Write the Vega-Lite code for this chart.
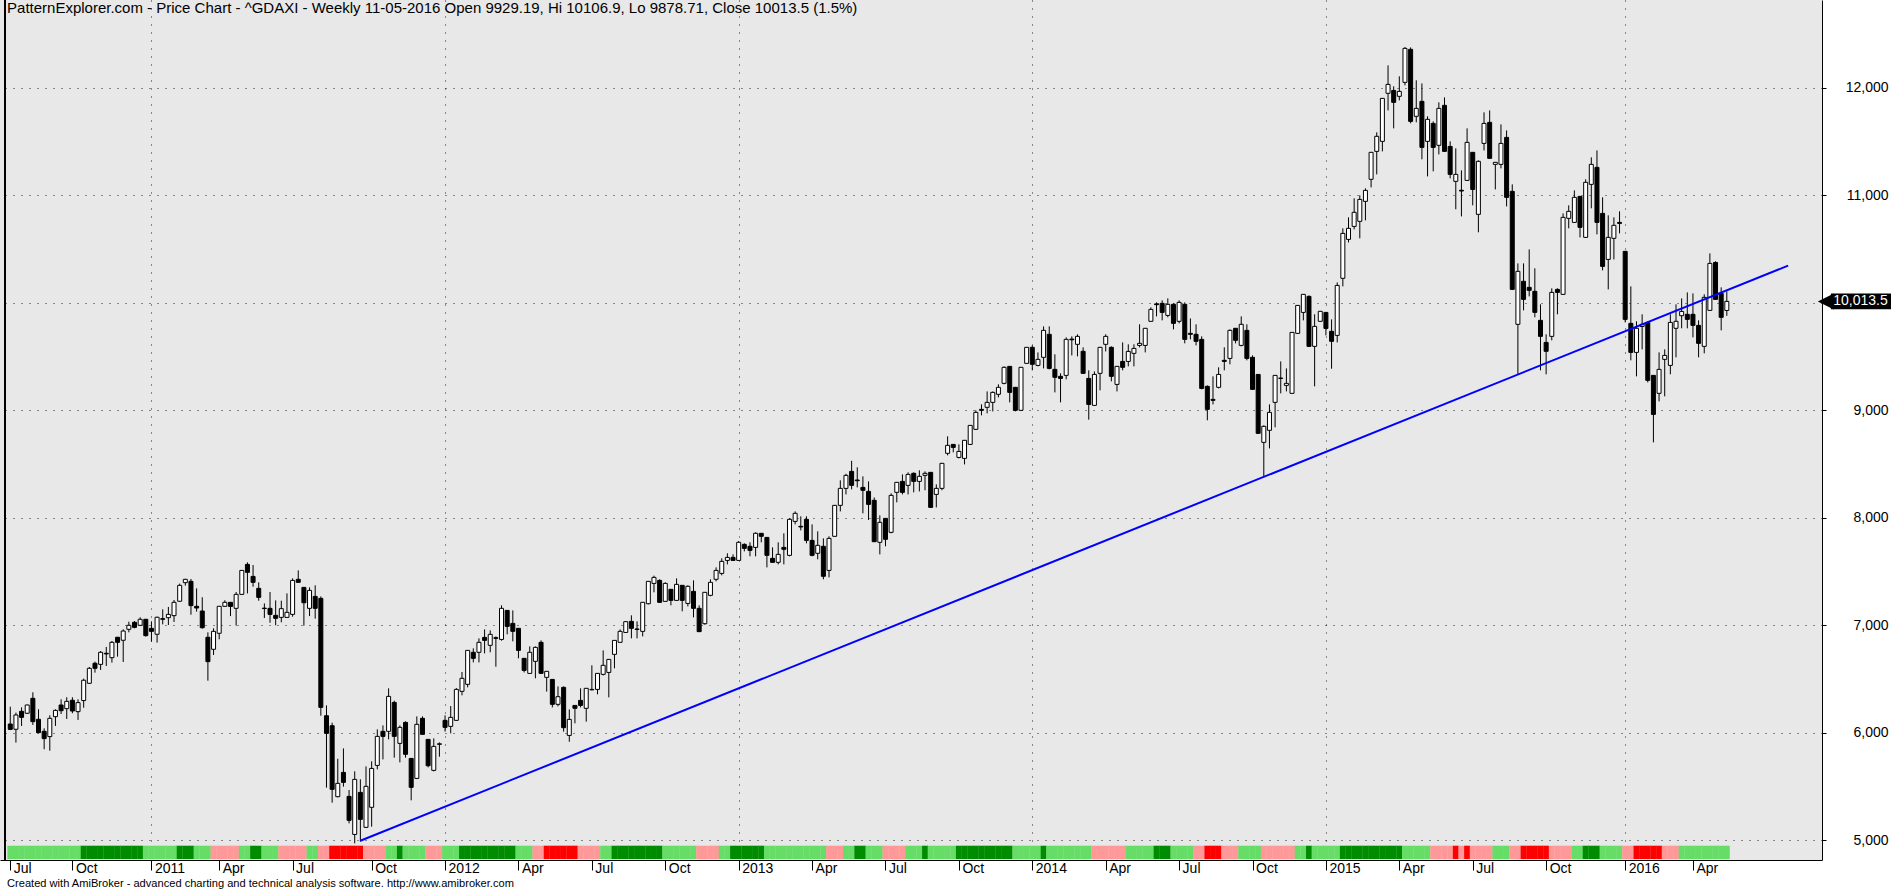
{
"$schema": "https://vega.github.io/schema/vega-lite/v6.json",
"width": 1822, "height": 860,
"autosize": {"type": "none"},
"padding": {"left": 0, "top": 0, "right": 69, "bottom": 32},
"background": "#FFFFFF",
"datasets": {
"candles": [
{"d":"2010-07-16","o":6082,"h":6243,"l":6026,"c":6032,"b":"L"},
{"d":"2010-07-23","o":6033,"h":6188,"l":5909,"c":6166,"b":"L"},
{"d":"2010-07-30","o":6200,"h":6237,"l":6064,"c":6144,"b":"L"},
{"d":"2010-08-06","o":6182,"h":6262,"l":6175,"c":6259,"b":"L"},
{"d":"2010-08-13","o":6321,"h":6377,"l":6073,"c":6104,"b":"L"},
{"d":"2010-08-20","o":6126,"h":6219,"l":5995,"c":6002,"b":"L"},
{"d":"2010-08-27","o":6014,"h":6042,"l":5847,"c":5946,"b":"L"},
{"d":"2010-09-03","o":5965,"h":6163,"l":5834,"c":6135,"b":"L"},
{"d":"2010-09-10","o":6150,"h":6219,"l":6064,"c":6209,"b":"L"},
{"d":"2010-09-17","o":6259,"h":6312,"l":6175,"c":6206,"b":"L"},
{"d":"2010-09-24","o":6225,"h":6331,"l":6129,"c":6293,"b":"L"},
{"d":"2010-10-01","o":6303,"h":6331,"l":6182,"c":6203,"b":"L"},
{"d":"2010-10-08","o":6197,"h":6312,"l":6120,"c":6281,"b":"L"},
{"d":"2010-10-15","o":6300,"h":6504,"l":6234,"c":6489,"b":"D"},
{"d":"2010-10-22","o":6461,"h":6613,"l":6455,"c":6600,"b":"D"},
{"d":"2010-10-29","o":6647,"h":6662,"l":6560,"c":6600,"b":"D"},
{"d":"2010-11-05","o":6637,"h":6761,"l":6585,"c":6749,"b":"D"},
{"d":"2010-11-12","o":6740,"h":6799,"l":6622,"c":6734,"b":"D"},
{"d":"2010-11-19","o":6699,"h":6854,"l":6653,"c":6842,"b":"D"},
{"d":"2010-11-26","o":6889,"h":6892,"l":6709,"c":6842,"b":"D"},
{"d":"2010-12-03","o":6861,"h":6963,"l":6659,"c":6947,"b":"D"},
{"d":"2010-12-10","o":6963,"h":7034,"l":6935,"c":7000,"b":"D"},
{"d":"2010-12-17","o":7028,"h":7040,"l":6972,"c":6981,"b":"D"},
{"d":"2010-12-24","o":7000,"h":7075,"l":6994,"c":7056,"b":"D"},
{"d":"2010-12-31","o":7056,"h":7060,"l":6895,"c":6904,"b":"L"},
{"d":"2011-01-07","o":6972,"h":7037,"l":6848,"c":6944,"b":"L"},
{"d":"2011-01-14","o":6917,"h":7080,"l":6839,"c":7075,"b":"L"},
{"d":"2011-01-21","o":7062,"h":7149,"l":7009,"c":7056,"b":"L"},
{"d":"2011-01-28","o":7071,"h":7171,"l":7003,"c":7102,"b":"L"},
{"d":"2011-02-04","o":7090,"h":7236,"l":7031,"c":7214,"b":"L"},
{"d":"2011-02-11","o":7224,"h":7388,"l":7220,"c":7372,"b":"D"},
{"d":"2011-02-18","o":7397,"h":7432,"l":7369,"c":7428,"b":"D"},
{"d":"2011-02-25","o":7409,"h":7431,"l":7099,"c":7183,"b":"D"},
{"d":"2011-03-04","o":7177,"h":7344,"l":7127,"c":7161,"b":"L"},
{"d":"2011-03-11","o":7133,"h":7261,"l":6969,"c":6978,"b":"L"},
{"d":"2011-03-18","o":6889,"h":6935,"l":6485,"c":6662,"b":"L"},
{"d":"2011-03-25","o":6777,"h":6972,"l":6724,"c":6944,"b":"P"},
{"d":"2011-04-01","o":6926,"h":7180,"l":6870,"c":7177,"b":"P"},
{"d":"2011-04-08","o":7177,"h":7233,"l":7175,"c":7214,"b":"P"},
{"d":"2011-04-15","o":7214,"h":7216,"l":7086,"c":7176,"b":"P"},
{"d":"2011-04-22","o":7158,"h":7310,"l":6997,"c":7288,"b":"P"},
{"d":"2011-04-29","o":7288,"h":7515,"l":7285,"c":7511,"b":"L"},
{"d":"2011-05-06","o":7567,"h":7586,"l":7297,"c":7493,"b":"L"},
{"d":"2011-05-13","o":7455,"h":7561,"l":7359,"c":7400,"b":"D"},
{"d":"2011-05-20","o":7344,"h":7400,"l":7229,"c":7260,"b":"D"},
{"d":"2011-05-27","o":7160,"h":7204,"l":7068,"c":7156,"b":"L"},
{"d":"2011-06-03","o":7158,"h":7310,"l":7024,"c":7102,"b":"L"},
{"d":"2011-06-10","o":7093,"h":7232,"l":7000,"c":7065,"b":"L"},
{"d":"2011-06-17","o":7074,"h":7229,"l":7028,"c":7155,"b":"P"},
{"d":"2011-06-24","o":7074,"h":7297,"l":7070,"c":7121,"b":"P"},
{"d":"2011-07-01","o":7102,"h":7437,"l":7080,"c":7418,"b":"P"},
{"d":"2011-07-08","o":7428,"h":7511,"l":7398,"c":7400,"b":"P"},
{"d":"2011-07-15","o":7353,"h":7356,"l":6997,"c":7210,"b":"P"},
{"d":"2011-07-22","o":7158,"h":7353,"l":7086,"c":7325,"b":"L"},
{"d":"2011-07-29","o":7269,"h":7372,"l":7062,"c":7158,"b":"L"},
{"d":"2011-08-05","o":7251,"h":7269,"l":6159,"c":6237,"b":"P"},
{"d":"2011-08-12","o":6159,"h":6255,"l":5490,"c":5995,"b":"P"},
{"d":"2011-08-19","o":6066,"h":6094,"l":5350,"c":5474,"b":"R"},
{"d":"2011-08-26","o":5406,"h":5759,"l":5400,"c":5530,"b":"R"},
{"d":"2011-09-02","o":5632,"h":5855,"l":5499,"c":5539,"b":"R"},
{"d":"2011-09-09","o":5409,"h":5468,"l":5158,"c":5186,"b":"R"},
{"d":"2011-09-16","o":5055,"h":5642,"l":4972,"c":5567,"b":"R"},
{"d":"2011-09-23","o":5446,"h":5567,"l":4987,"c":5195,"b":"R"},
{"d":"2011-09-30","o":5121,"h":5688,"l":5115,"c":5502,"b":"P"},
{"d":"2011-10-07","o":5307,"h":5735,"l":5127,"c":5669,"b":"P"},
{"d":"2011-10-14","o":5697,"h":6032,"l":5660,"c":5967,"b":"P"},
{"d":"2011-10-21","o":6014,"h":6069,"l":5753,"c":5967,"b":"P"},
{"d":"2011-10-28","o":6014,"h":6414,"l":5939,"c":6339,"b":"L"},
{"d":"2011-11-04","o":6283,"h":6299,"l":5769,"c":5967,"b":"L"},
{"d":"2011-11-11","o":5902,"h":6069,"l":5725,"c":6051,"b":"D"},
{"d":"2011-11-18","o":6097,"h":6107,"l":5769,"c":5800,"b":"L"},
{"d":"2011-11-25","o":5762,"h":5765,"l":5372,"c":5493,"b":"L"},
{"d":"2011-12-02","o":5576,"h":6153,"l":5570,"c":6079,"b":"L"},
{"d":"2011-12-09","o":6135,"h":6153,"l":5983,"c":5986,"b":"L"},
{"d":"2011-12-16","o":5939,"h":5942,"l":5679,"c":5694,"b":"P"},
{"d":"2011-12-23","o":5651,"h":5948,"l":5641,"c":5874,"b":"P"},
{"d":"2011-12-30","o":5893,"h":5911,"l":5778,"c":5898,"b":"P"},
{"d":"2012-01-06","o":6116,"h":6163,"l":6011,"c":6051,"b":"L"},
{"d":"2012-01-13","o":6060,"h":6249,"l":5995,"c":6144,"b":"L"},
{"d":"2012-01-20","o":6116,"h":6416,"l":6110,"c":6404,"b":"L"},
{"d":"2012-01-27","o":6386,"h":6566,"l":6349,"c":6507,"b":"D"},
{"d":"2012-02-03","o":6451,"h":6770,"l":6423,"c":6767,"b":"D"},
{"d":"2012-02-10","o":6749,"h":6786,"l":6655,"c":6693,"b":"D"},
{"d":"2012-02-17","o":6749,"h":6879,"l":6655,"c":6842,"b":"D"},
{"d":"2012-02-24","o":6888,"h":6962,"l":6739,"c":6860,"b":"D"},
{"d":"2012-03-02","o":6814,"h":6953,"l":6749,"c":6916,"b":"D"},
{"d":"2012-03-09","o":6885,"h":6897,"l":6615,"c":6879,"b":"D"},
{"d":"2012-03-16","o":6869,"h":7186,"l":6857,"c":7158,"b":"D"},
{"d":"2012-03-23","o":7139,"h":7142,"l":6916,"c":6990,"b":"D"},
{"d":"2012-03-30","o":7018,"h":7139,"l":6851,"c":6944,"b":"D"},
{"d":"2012-04-06","o":6972,"h":6975,"l":6693,"c":6767,"b":"L"},
{"d":"2012-04-13","o":6693,"h":6696,"l":6562,"c":6581,"b":"L"},
{"d":"2012-04-20","o":6553,"h":6804,"l":6550,"c":6749,"b":"L"},
{"d":"2012-04-27","o":6665,"h":6804,"l":6507,"c":6795,"b":"P"},
{"d":"2012-05-04","o":6842,"h":6860,"l":6550,"c":6553,"b":"P"},
{"d":"2012-05-11","o":6516,"h":6575,"l":6383,"c":6572,"b":"R"},
{"d":"2012-05-18","o":6497,"h":6500,"l":6237,"c":6265,"b":"R"},
{"d":"2012-05-25","o":6265,"h":6432,"l":6246,"c":6336,"b":"R"},
{"d":"2012-06-01","o":6423,"h":6432,"l":6011,"c":6048,"b":"R"},
{"d":"2012-06-08","o":5976,"h":6218,"l":5917,"c":6125,"b":"R"},
{"d":"2012-06-15","o":6255,"h":6258,"l":6088,"c":6228,"b":"R"},
{"d":"2012-06-22","o":6302,"h":6414,"l":6237,"c":6255,"b":"P"},
{"d":"2012-06-29","o":6228,"h":6417,"l":6104,"c":6414,"b":"P"},
{"d":"2012-07-06","o":6400,"h":6628,"l":6395,"c":6404,"b":"P"},
{"d":"2012-07-13","o":6404,"h":6556,"l":6358,"c":6553,"b":"P"},
{"d":"2012-07-20","o":6544,"h":6767,"l":6534,"c":6628,"b":"L"},
{"d":"2012-07-27","o":6562,"h":6686,"l":6330,"c":6683,"b":"L"},
{"d":"2012-08-03","o":6730,"h":6862,"l":6600,"c":6860,"b":"D"},
{"d":"2012-08-10","o":6842,"h":6962,"l":6840,"c":6944,"b":"D"},
{"d":"2012-08-17","o":6934,"h":7037,"l":6930,"c":7034,"b":"D"},
{"d":"2012-08-24","o":7037,"h":7093,"l":6879,"c":6972,"b":"D"},
{"d":"2012-08-31","o":6966,"h":7037,"l":6879,"c":6962,"b":"D"},
{"d":"2012-09-07","o":6944,"h":7217,"l":6897,"c":7214,"b":"D"},
{"d":"2012-09-14","o":7201,"h":7412,"l":7195,"c":7409,"b":"D"},
{"d":"2012-09-21","o":7390,"h":7462,"l":7307,"c":7446,"b":"D"},
{"d":"2012-09-28","o":7418,"h":7428,"l":7210,"c":7214,"b":"D"},
{"d":"2012-10-05","o":7223,"h":7400,"l":7220,"c":7390,"b":"L"},
{"d":"2012-10-12","o":7335,"h":7338,"l":7186,"c":7232,"b":"L"},
{"d":"2012-10-19","o":7232,"h":7437,"l":7229,"c":7381,"b":"L"},
{"d":"2012-10-26","o":7372,"h":7375,"l":7130,"c":7232,"b":"L"},
{"d":"2012-11-02","o":7204,"h":7372,"l":7176,"c":7363,"b":"L"},
{"d":"2012-11-09","o":7316,"h":7418,"l":7074,"c":7158,"b":"L"},
{"d":"2012-11-16","o":7158,"h":7186,"l":6938,"c":6941,"b":"P"},
{"d":"2012-11-23","o":7015,"h":7310,"l":7006,"c":7307,"b":"P"},
{"d":"2012-11-30","o":7279,"h":7428,"l":7270,"c":7400,"b":"P"},
{"d":"2012-12-07","o":7428,"h":7539,"l":7409,"c":7511,"b":"P"},
{"d":"2012-12-14","o":7483,"h":7623,"l":7465,"c":7595,"b":"L"},
{"d":"2012-12-21","o":7604,"h":7670,"l":7567,"c":7632,"b":"L"},
{"d":"2012-12-28","o":7632,"h":7660,"l":7601,"c":7604,"b":"D"},
{"d":"2013-01-04","o":7604,"h":7784,"l":7601,"c":7772,"b":"D"},
{"d":"2013-01-11","o":7753,"h":7763,"l":7688,"c":7716,"b":"D"},
{"d":"2013-01-18","o":7735,"h":7772,"l":7642,"c":7697,"b":"D"},
{"d":"2013-01-25","o":7725,"h":7865,"l":7642,"c":7856,"b":"D"},
{"d":"2013-02-01","o":7856,"h":7859,"l":7772,"c":7828,"b":"D"},
{"d":"2013-02-08","o":7818,"h":7821,"l":7539,"c":7651,"b":"L"},
{"d":"2013-02-15","o":7623,"h":7725,"l":7583,"c":7586,"b":"L"},
{"d":"2013-02-22","o":7586,"h":7772,"l":7567,"c":7660,"b":"L"},
{"d":"2013-03-01","o":7725,"h":7856,"l":7567,"c":7707,"b":"L"},
{"d":"2013-03-08","o":7651,"h":7995,"l":7642,"c":7986,"b":"L"},
{"d":"2013-03-15","o":7967,"h":8060,"l":7939,"c":8042,"b":"L"},
{"d":"2013-03-22","o":7921,"h":8014,"l":7883,"c":7915,"b":"L"},
{"d":"2013-03-29","o":7986,"h":8014,"l":7763,"c":7790,"b":"L"},
{"d":"2013-04-05","o":7790,"h":7939,"l":7642,"c":7651,"b":"L"},
{"d":"2013-04-12","o":7670,"h":7874,"l":7614,"c":7744,"b":"L"},
{"d":"2013-04-19","o":7735,"h":7809,"l":7428,"c":7456,"b":"L"},
{"d":"2013-04-26","o":7511,"h":7828,"l":7446,"c":7809,"b":"P"},
{"d":"2013-05-03","o":7828,"h":8119,"l":7825,"c":8116,"b":"P"},
{"d":"2013-05-10","o":8116,"h":8349,"l":8060,"c":8274,"b":"P"},
{"d":"2013-05-17","o":8274,"h":8410,"l":8218,"c":8395,"b":"L"},
{"d":"2013-05-24","o":8432,"h":8530,"l":8265,"c":8302,"b":"L"},
{"d":"2013-05-31","o":8352,"h":8470,"l":8283,"c":8345,"b":"D"},
{"d":"2013-06-07","o":8283,"h":8386,"l":8042,"c":8256,"b":"D"},
{"d":"2013-06-14","o":8246,"h":8339,"l":7980,"c":8125,"b":"L"},
{"d":"2013-06-21","o":8163,"h":8190,"l":7775,"c":7778,"b":"L"},
{"d":"2013-06-28","o":7772,"h":8023,"l":7660,"c":7958,"b":"L"},
{"d":"2013-07-05","o":7995,"h":7998,"l":7735,"c":7800,"b":"P"},
{"d":"2013-07-12","o":7865,"h":8228,"l":7856,"c":8209,"b":"P"},
{"d":"2013-07-19","o":8237,"h":8333,"l":8144,"c":8330,"b":"P"},
{"d":"2013-07-26","o":8339,"h":8404,"l":8218,"c":8237,"b":"P"},
{"d":"2013-08-02","o":8302,"h":8423,"l":8218,"c":8404,"b":"L"},
{"d":"2013-08-09","o":8414,"h":8423,"l":8237,"c":8339,"b":"L"},
{"d":"2013-08-16","o":8339,"h":8442,"l":8246,"c":8386,"b":"L"},
{"d":"2013-08-23","o":8395,"h":8432,"l":8256,"c":8414,"b":"D"},
{"d":"2013-08-30","o":8423,"h":8426,"l":8094,"c":8097,"b":"L"},
{"d":"2013-09-06","o":8218,"h":8311,"l":8097,"c":8274,"b":"L"},
{"d":"2013-09-13","o":8274,"h":8510,"l":8256,"c":8507,"b":"L"},
{"d":"2013-09-20","o":8600,"h":8758,"l":8581,"c":8674,"b":"L"},
{"d":"2013-09-27","o":8683,"h":8686,"l":8609,"c":8655,"b":"L"},
{"d":"2013-10-04","o":8562,"h":8683,"l":8553,"c":8618,"b":"D"},
{"d":"2013-10-11","o":8553,"h":8724,"l":8497,"c":8721,"b":"D"},
{"d":"2013-10-18","o":8683,"h":8863,"l":8680,"c":8860,"b":"D"},
{"d":"2013-10-25","o":8823,"h":9000,"l":8820,"c":8981,"b":"D"},
{"d":"2013-11-01","o":9009,"h":9056,"l":8953,"c":9000,"b":"D"},
{"d":"2013-11-08","o":9028,"h":9176,"l":8972,"c":9074,"b":"D"},
{"d":"2013-11-15","o":9074,"h":9176,"l":8990,"c":9167,"b":"D"},
{"d":"2013-11-22","o":9149,"h":9242,"l":9121,"c":9214,"b":"D"},
{"d":"2013-11-29","o":9251,"h":9409,"l":9242,"c":9400,"b":"D"},
{"d":"2013-12-06","o":9409,"h":9412,"l":9074,"c":9167,"b":"D"},
{"d":"2013-12-13","o":9214,"h":9217,"l":8990,"c":9000,"b":"L"},
{"d":"2013-12-20","o":9000,"h":9403,"l":8997,"c":9400,"b":"L"},
{"d":"2013-12-27","o":9437,"h":9589,"l":9434,"c":9586,"b":"L"},
{"d":"2014-01-03","o":9586,"h":9604,"l":9372,"c":9428,"b":"L"},
{"d":"2014-01-10","o":9418,"h":9539,"l":9409,"c":9474,"b":"L"},
{"d":"2014-01-17","o":9493,"h":9781,"l":9390,"c":9744,"b":"D"},
{"d":"2014-01-24","o":9707,"h":9781,"l":9381,"c":9390,"b":"L"},
{"d":"2014-01-31","o":9381,"h":9521,"l":9167,"c":9307,"b":"L"},
{"d":"2014-02-07","o":9316,"h":9344,"l":9074,"c":9297,"b":"L"},
{"d":"2014-02-14","o":9325,"h":9679,"l":9288,"c":9660,"b":"L"},
{"d":"2014-02-21","o":9663,"h":9688,"l":9511,"c":9656,"b":"L"},
{"d":"2014-02-28","o":9614,"h":9707,"l":9502,"c":9688,"b":"L"},
{"d":"2014-03-07","o":9549,"h":9586,"l":9340,"c":9344,"b":"L"},
{"d":"2014-03-14","o":9297,"h":9372,"l":8913,"c":9055,"b":"L"},
{"d":"2014-03-21","o":9046,"h":9362,"l":9043,"c":9334,"b":"P"},
{"d":"2014-03-28","o":9344,"h":9590,"l":9186,"c":9586,"b":"P"},
{"d":"2014-04-04","o":9614,"h":9707,"l":9548,"c":9688,"b":"P"},
{"d":"2014-04-11","o":9586,"h":9595,"l":9269,"c":9316,"b":"P"},
{"d":"2014-04-18","o":9241,"h":9412,"l":9176,"c":9409,"b":"P"},
{"d":"2014-04-25","o":9455,"h":9632,"l":9372,"c":9400,"b":"P"},
{"d":"2014-05-02","o":9455,"h":9614,"l":9409,"c":9548,"b":"L"},
{"d":"2014-05-09","o":9530,"h":9614,"l":9409,"c":9576,"b":"L"},
{"d":"2014-05-16","o":9604,"h":9800,"l":9586,"c":9623,"b":"L"},
{"d":"2014-05-23","o":9604,"h":9766,"l":9539,"c":9763,"b":"L"},
{"d":"2014-05-30","o":9828,"h":9958,"l":9825,"c":9939,"b":"L"},
{"d":"2014-06-06","o":9990,"h":10004,"l":9874,"c":9983,"b":"D"},
{"d":"2014-06-13","o":9995,"h":10023,"l":9837,"c":9911,"b":"D"},
{"d":"2014-06-20","o":9883,"h":10041,"l":9865,"c":9986,"b":"D"},
{"d":"2014-06-27","o":9986,"h":9995,"l":9753,"c":9809,"b":"L"},
{"d":"2014-07-04","o":9828,"h":10023,"l":9809,"c":10004,"b":"L"},
{"d":"2014-07-11","o":9986,"h":10004,"l":9623,"c":9660,"b":"L"},
{"d":"2014-07-18","o":9716,"h":9855,"l":9660,"c":9707,"b":"L"},
{"d":"2014-07-25","o":9707,"h":9800,"l":9604,"c":9642,"b":"P"},
{"d":"2014-08-01","o":9660,"h":9688,"l":9195,"c":9204,"b":"P"},
{"d":"2014-08-08","o":9223,"h":9232,"l":8907,"c":9009,"b":"R"},
{"d":"2014-08-15","o":9102,"h":9316,"l":9055,"c":9093,"b":"R"},
{"d":"2014-08-22","o":9214,"h":9400,"l":9204,"c":9334,"b":"R"},
{"d":"2014-08-29","o":9465,"h":9586,"l":9372,"c":9455,"b":"P"},
{"d":"2014-09-05","o":9483,"h":9753,"l":9428,"c":9744,"b":"P"},
{"d":"2014-09-12","o":9763,"h":9766,"l":9623,"c":9651,"b":"P"},
{"d":"2014-09-19","o":9604,"h":9874,"l":9595,"c":9800,"b":"L"},
{"d":"2014-09-26","o":9744,"h":9800,"l":9465,"c":9483,"b":"L"},
{"d":"2014-10-03","o":9493,"h":9511,"l":9190,"c":9195,"b":"L"},
{"d":"2014-10-10","o":9334,"h":9337,"l":8780,"c":8786,"b":"L"},
{"d":"2014-10-17","o":8702,"h":8860,"l":8376,"c":8851,"b":"P"},
{"d":"2014-10-24","o":8814,"h":9055,"l":8646,"c":8981,"b":"P"},
{"d":"2014-10-31","o":9074,"h":9328,"l":8842,"c":9325,"b":"P"},
{"d":"2014-11-07","o":9300,"h":9455,"l":9158,"c":9297,"b":"P"},
{"d":"2014-11-14","o":9232,"h":9390,"l":9176,"c":9251,"b":"P"},
{"d":"2014-11-21","o":9158,"h":9728,"l":9155,"c":9725,"b":"P"},
{"d":"2014-11-28","o":9716,"h":9980,"l":9713,"c":9976,"b":"L"},
{"d":"2014-12-05","o":9911,"h":10082,"l":9837,"c":10079,"b":"L"},
{"d":"2014-12-12","o":10060,"h":10069,"l":9590,"c":9595,"b":"D"},
{"d":"2014-12-19","o":9595,"h":9893,"l":9223,"c":9781,"b":"L"},
{"d":"2014-12-26","o":9828,"h":9924,"l":9825,"c":9921,"b":"L"},
{"d":"2015-01-02","o":9911,"h":9914,"l":9697,"c":9762,"b":"L"},
{"d":"2015-01-09","o":9735,"h":9846,"l":9387,"c":9642,"b":"L"},
{"d":"2015-01-16","o":9697,"h":10190,"l":9632,"c":10162,"b":"L"},
{"d":"2015-01-23","o":10228,"h":10693,"l":10153,"c":10646,"b":"D"},
{"d":"2015-01-30","o":10590,"h":10795,"l":10562,"c":10693,"b":"D"},
{"d":"2015-02-06","o":10711,"h":10972,"l":10683,"c":10842,"b":"D"},
{"d":"2015-02-13","o":10758,"h":11000,"l":10600,"c":10962,"b":"D"},
{"d":"2015-02-20","o":10944,"h":11065,"l":10767,"c":11046,"b":"D"},
{"d":"2015-02-27","o":11149,"h":11403,"l":11074,"c":11400,"b":"D"},
{"d":"2015-03-06","o":11409,"h":11586,"l":11195,"c":11549,"b":"D"},
{"d":"2015-03-13","o":11502,"h":11905,"l":11409,"c":11902,"b":"D"},
{"d":"2015-03-20","o":11949,"h":12209,"l":11790,"c":12032,"b":"D"},
{"d":"2015-03-27","o":11976,"h":12014,"l":11623,"c":11865,"b":"D"},
{"d":"2015-04-03","o":11921,"h":12107,"l":11883,"c":11967,"b":"D"},
{"d":"2015-04-10","o":12051,"h":12380,"l":12023,"c":12367,"b":"L"},
{"d":"2015-04-17","o":12358,"h":12376,"l":11670,"c":11688,"b":"L"},
{"d":"2015-04-24","o":11735,"h":12070,"l":11679,"c":11809,"b":"L"},
{"d":"2015-05-01","o":11874,"h":12041,"l":11335,"c":11446,"b":"L"},
{"d":"2015-05-08","o":11502,"h":11735,"l":11176,"c":11707,"b":"L"},
{"d":"2015-05-15","o":11669,"h":11688,"l":11223,"c":11446,"b":"P"},
{"d":"2015-05-22","o":11465,"h":11865,"l":11381,"c":11809,"b":"P"},
{"d":"2015-05-29","o":11837,"h":11911,"l":11405,"c":11409,"b":"P"},
{"d":"2015-06-05","o":11455,"h":11502,"l":11158,"c":11195,"b":"P"},
{"d":"2015-06-12","o":11130,"h":11437,"l":10870,"c":11195,"b":"R"},
{"d":"2015-06-19","o":11047,"h":11232,"l":10804,"c":11040,"b":"P"},
{"d":"2015-06-26","o":11139,"h":11623,"l":11136,"c":11493,"b":"R"},
{"d":"2015-07-03","o":11400,"h":11403,"l":10907,"c":11055,"b":"P"},
{"d":"2015-07-10","o":10823,"h":11325,"l":10656,"c":11316,"b":"P"},
{"d":"2015-07-17","o":11483,"h":11772,"l":11418,"c":11669,"b":"P"},
{"d":"2015-07-24","o":11679,"h":11790,"l":11340,"c":11344,"b":"P"},
{"d":"2015-07-31","o":11288,"h":11310,"l":11055,"c":11307,"b":"L"},
{"d":"2015-08-07","o":11288,"h":11660,"l":11251,"c":11483,"b":"L"},
{"d":"2015-08-14","o":11539,"h":11604,"l":10897,"c":10981,"b":"L"},
{"d":"2015-08-21","o":11037,"h":11102,"l":10120,"c":10125,"b":"P"},
{"d":"2015-08-28","o":9800,"h":10367,"l":9335,"c":10293,"b":"P"},
{"d":"2015-09-04","o":10200,"h":10367,"l":9930,"c":10032,"b":"R"},
{"d":"2015-09-11","o":10144,"h":10497,"l":10060,"c":10116,"b":"R"},
{"d":"2015-09-18","o":10107,"h":10321,"l":9865,"c":9911,"b":"R"},
{"d":"2015-09-25","o":9837,"h":9986,"l":9372,"c":9688,"b":"R"},
{"d":"2015-10-02","o":9632,"h":9707,"l":9335,"c":9549,"b":"R"},
{"d":"2015-10-09","o":9688,"h":10135,"l":9651,"c":10097,"b":"P"},
{"d":"2015-10-16","o":10125,"h":10135,"l":9893,"c":10097,"b":"P"},
{"d":"2015-10-23","o":10079,"h":10832,"l":10076,"c":10795,"b":"P"},
{"d":"2015-10-30","o":10786,"h":10907,"l":10693,"c":10851,"b":"P"},
{"d":"2015-11-06","o":10748,"h":11046,"l":10745,"c":10981,"b":"L"},
{"d":"2015-11-13","o":10990,"h":10993,"l":10609,"c":10702,"b":"L"},
{"d":"2015-11-20","o":10609,"h":11149,"l":10605,"c":11121,"b":"D"},
{"d":"2015-11-27","o":11102,"h":11353,"l":10879,"c":11288,"b":"D"},
{"d":"2015-12-04","o":11260,"h":11418,"l":10637,"c":10748,"b":"D"},
{"d":"2015-12-11","o":10832,"h":10981,"l":10302,"c":10339,"b":"L"},
{"d":"2015-12-18","o":10404,"h":10814,"l":10125,"c":10609,"b":"L"},
{"d":"2015-12-25","o":10600,"h":10795,"l":10404,"c":10721,"b":"L"},
{"d":"2016-01-01","o":10748,"h":10851,"l":10646,"c":10739,"b":"L"},
{"d":"2016-01-08","o":10479,"h":10482,"l":9818,"c":9846,"b":"P"},
{"d":"2016-01-15","o":9809,"h":10153,"l":9465,"c":9539,"b":"P"},
{"d":"2016-01-22","o":9539,"h":9828,"l":9316,"c":9763,"b":"R"},
{"d":"2016-01-29","o":9780,"h":9893,"l":9567,"c":9800,"b":"R"},
{"d":"2016-02-05","o":9818,"h":9828,"l":9260,"c":9279,"b":"R"},
{"d":"2016-02-12","o":9325,"h":9328,"l":8702,"c":8962,"b":"R"},
{"d":"2016-02-19","o":9158,"h":9539,"l":9083,"c":9381,"b":"R"},
{"d":"2016-02-26","o":9474,"h":9567,"l":9130,"c":9511,"b":"P"},
{"d":"2016-03-04","o":9418,"h":9893,"l":9335,"c":9818,"b":"P"},
{"d":"2016-03-11","o":9763,"h":9986,"l":9493,"c":9828,"b":"P"},
{"d":"2016-03-18","o":9880,"h":10041,"l":9763,"c":9920,"b":"L"},
{"d":"2016-03-25","o":9893,"h":10097,"l":9763,"c":9846,"b":"L"},
{"d":"2016-04-01","o":9893,"h":10088,"l":9679,"c":9790,"b":"L"},
{"d":"2016-04-08","o":9790,"h":9837,"l":9493,"c":9623,"b":"L"},
{"d":"2016-04-15","o":9595,"h":10079,"l":9530,"c":10051,"b":"L"},
{"d":"2016-04-22","o":9930,"h":10460,"l":9927,"c":10367,"b":"L"},
{"d":"2016-04-29","o":10376,"h":10386,"l":10029,"c":10032,"b":"L"},
{"d":"2016-05-06","o":10088,"h":10144,"l":9744,"c":9865,"b":"L"},
{"d":"2016-05-13","o":9929.19,"h":10106.9,"l":9878.71,"c":10013.5,"b":"L"}
],
"trend": [
{"d":"2011-09-23","v":4996},
{"d":"2016-07-28","v":10346}
],
"one": [{"k":1}]
},
"layer": [
{
"data": {"name": "candles"},
"mark": {"type": "bar", "size": 5.9},
"encoding": {
"x": {"field": "d", "type": "temporal", "title": null,
"scale": {"type": "utc", "domain": [{"year":2010,"month":7,"date":9,"hours":11,"utc":true},{"year":2016,"month":9,"date":1,"hours":19,"utc":true}]},
"axis": {"orient": "bottom",
"values": [{"year":2010,"month":7,"date":16,"utc":true},{"year":2010,"month":10,"date":1,"utc":true},{"year":2011,"month":1,"date":7,"utc":true},{"year":2011,"month":4,"date":1,"utc":true},{"year":2011,"month":7,"date":1,"utc":true},{"year":2011,"month":10,"date":7,"utc":true},{"year":2012,"month":1,"date":6,"utc":true},{"year":2012,"month":4,"date":6,"utc":true},{"year":2012,"month":7,"date":6,"utc":true},{"year":2012,"month":10,"date":5,"utc":true},{"year":2013,"month":1,"date":4,"utc":true},{"year":2013,"month":4,"date":5,"utc":true},{"year":2013,"month":7,"date":5,"utc":true},{"year":2013,"month":10,"date":4,"utc":true},{"year":2014,"month":1,"date":3,"utc":true},{"year":2014,"month":4,"date":4,"utc":true},{"year":2014,"month":7,"date":4,"utc":true},{"year":2014,"month":10,"date":3,"utc":true},{"year":2015,"month":1,"date":2,"utc":true},{"year":2015,"month":4,"date":3,"utc":true},{"year":2015,"month":7,"date":3,"utc":true},{"year":2015,"month":10,"date":2,"utc":true},{"year":2016,"month":1,"date":8,"utc":true},{"year":2016,"month":4,"date":1,"utc":true}],
"labelExpr": "utcmonth(datum.value) == 0 ? utcFormat(datum.value, '%Y') : utcFormat(datum.value, '%b')",
"labelAlign": "left", "labelBaseline": "top", "labelOffset": 3, "labelPadding": -9,
"labelFlush": false, "labelOverlap": false, "labelBound": false,
"tickSize": 10, "tickColor": "#000000", "tickWidth": 1,
"domainColor": "#000000", "domainWidth": 1,
"grid": true, "gridDash": [1, 7], "gridColor": "#000000",
"gridOpacity": {"condition": {"test": "utcmonth(datum.value) == 0", "value": 0.85}, "value": 0},
"title": null}},
"y": {"datum": 4826, "type": "quantitative", "title": null,
"scale": {"domain": [4817, 12817], "nice": false, "zero": false},
"axis": {"orient": "right", "values": [5000,6000,7000,8000,9000,10000,11000,12000],
"labelExpr": "datum.value == 10000 ? '' : format(datum.value, ',d')",
"labelAlign": "right", "labelBaseline": "middle", "labelPadding": 62,
"tickSize": 4, "tickColor": "#000000", "domainColor": "#000000", "domainWidth": 1,
"grid": true, "gridDash": [1, 7], "gridColor": "#000000", "gridOpacity": 0.85, "title": null}},
"y2": {"datum": 4950},
"color": {"field": "b", "type": "nominal",
"scale": {"domain": ["L","D","P","R"], "range": ["#66DD66","#008C00","#FF9999","#FF0000"]},
"legend": null}
}
},
{
"data": {"name": "candles"},
"mark": {"type": "rule", "color": "#000000", "strokeWidth": 1},
"encoding": {
"x": {"field": "d", "type": "temporal", "title": null, "scale": {"type": "utc"}},
"y": {"field": "l", "type": "quantitative", "title": null},
"y2": {"field": "h"}
}
},
{
"data": {"name": "candles"},
"mark": {"type": "bar", "size": 4, "strokeWidth": 1},
"encoding": {
"x": {"field": "d", "type": "temporal", "title": null, "scale": {"type": "utc"}},
"y": {"field": "o", "type": "quantitative", "title": null},
"y2": {"field": "c"},
"fill": {"condition": {"test": "datum.c < datum.o", "value": "#000000"}, "value": "#FFFFFF"},
"stroke": {"value": "#000000"}
}
},
{
"data": {"name": "trend"},
"mark": {"type": "line", "color": "#0000FF", "strokeWidth": 2},
"encoding": {
"x": {"field": "d", "type": "temporal", "title": null, "scale": {"type": "utc"}},
"y": {"field": "v", "type": "quantitative", "title": null}
}
},
{
"data": {"name": "one"},
"mark": {"type": "rule", "color": "#000000", "strokeWidth": 2},
"encoding": {
"x": {"datum": {"year":2010,"month":7,"date":9,"hours":11,"utc":true}, "type": "temporal", "scale": {"type": "utc"}},
"y": {"datum": 4817, "type": "quantitative"},
"y2": {"datum": 12817}
}
},
{
"data": {"name": "one"},
"mark": {"type": "text", "text": "PatternExplorer.com - Price Chart - ^GDAXI - Weekly 11-05-2016 Open 9929.19, Hi 10106.9, Lo 9878.71, Close 10013.5 (1.5%)",
"align": "left", "baseline": "top", "font": "Liberation Sans", "fontSize": 15, "color": "#000000"},
"encoding": {
"x": {"datum": {"year":2010,"month":7,"date":12,"utc":true}, "type": "temporal", "scale": {"type": "utc"}},
"y": {"datum": 12808, "type": "quantitative"}
}
},
{
"data": {"name": "one"},
"mark": {"type": "text", "text": "Created with AmiBroker - advanced charting and technical analysis software. http://www.amibroker.com",
"align": "left", "baseline": "middle", "font": "Liberation Sans", "fontSize": 11.1, "color": "#000000"},
"encoding": {
"x": {"datum": {"year":2010,"month":7,"date":12,"utc":true}, "type": "temporal", "scale": {"type": "utc"}},
"y": {"datum": 4594, "type": "quantitative"}
}
},
{
"data": {"name": "one"},
"mark": {"type": "rect", "color": "#000000"},
"encoding": {
"x": {"datum": {"year":2016,"month":9,"date":19,"utc":true}, "type": "temporal", "scale": {"type": "utc"}},
"x2": {"datum": {"year":2016,"month":12,"date":5,"utc":true}},
"y": {"datum": 9940, "type": "quantitative"},
"y2": {"datum": 10087}
}
},
{
"data": {"name": "one"},
"mark": {"type": "point", "shape": "M -1 0 L 1 -1 L 1 1 Z", "filled": true, "size": 256, "color": "#000000", "opacity": 1},
"encoding": {
"x": {"datum": {"year":2016,"month":9,"date":12,"hours":17,"utc":true}, "type": "temporal", "scale": {"type": "utc"}},
"y": {"datum": 10013.5, "type": "quantitative"}
}
},
{
"data": {"name": "one"},
"mark": {"type": "text", "text": "10,013.5", "align": "left", "baseline": "middle", "font": "Liberation Sans", "fontSize": 14, "color": "#FFFFFF"},
"encoding": {
"x": {"datum": {"year":2016,"month":9,"date":22,"utc":true}, "type": "temporal", "scale": {"type": "utc"}},
"y": {"datum": 10013.5, "type": "quantitative"}
}
}
],
"config": {
"view": {"fill": "#E8E8E8", "stroke": null},
"axis": {"labelFont": "Liberation Sans", "labelFontSize": 14, "labelColor": "#000000"},
"text": {"font": "Liberation Sans"}
}
}
